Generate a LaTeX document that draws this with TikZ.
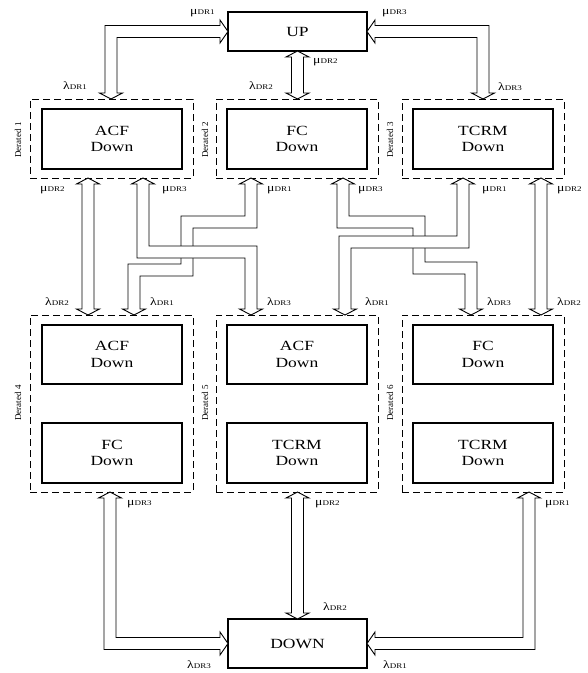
\documentclass[tikz,border=0pt]{standalone}
\usepackage{fontspec}
\setmainfont{Liberation Serif}[FakeStretch=1.25]
\newfontfamily\plainserif{Liberation Serif}

\tikzset{
  innerbox/.style={draw, line width=1.1pt, minimum width=140pt, minimum height=60pt,
    align=center, inner sep=0pt, font=\fontsize{14}{16.5}\selectfont},
  endbox/.style={draw, line width=1.1pt, minimum width=139pt, inner sep=0pt,
    font=\fontsize{14}{16.5}\selectfont},
  deratedbox/.style={draw, dash pattern=on 7pt off 4pt, line width=1pt, inner sep=0pt},
  dlabel/.style={rotate=90, inner sep=0pt, font=\plainserif\fontsize{9}{9}\selectfont},
  rlabel/.style={anchor=west, inner sep=0pt, font=\fontsize{11}{11}\selectfont},
  arrowbody/.style={draw=black, fill=white, line width=0.9pt, line join=miter}
}
% straight vertical hollow double arrow at x=#1 from y=#2 (top tip) to y=#3 (bottom tip)
\newcommand\varrow[3]{%
  \filldraw[arrowbody] (#1,#2) -- ({#1+11.5},{#2+6}) -- ({#1+6},{#2+6}) -- ({#1+6},{#3-6})
    -- ({#1+11.5},{#3-6}) -- (#1,#3) -- ({#1-11.5},{#3-6}) -- ({#1-6},{#3-6})
    -- ({#1-6},{#2+6}) -- ({#1-11.5},{#2+6}) -- cycle;}
\newcommand\lab[2]{#1{\fontsize{7.2}{8}\selectfont DR#2}}

\begin{document}
\begin{tikzpicture}[x=1pt, y=-1pt]
\useasboundingbox[fill=white] (0,0) rectangle (588,673);

% top and bottom boxes
\node[endbox, minimum height=39pt] (up) at (297.5,31.5) {UP};
\node[endbox, minimum height=49pt] (down) at (297.5,643.5) {DOWN};

% derated groups, row 1
\node[deratedbox, minimum width=163pt, minimum height=79pt] (d1) at (111.5,138.5) {};
\node[deratedbox, minimum width=162pt, minimum height=79pt] (d2) at (297,138.5) {};
\node[deratedbox, minimum width=162pt, minimum height=79pt] (d3) at (483,138.5) {};
\node[innerbox] (b1) at (112,139) {ACF\\Down};
\node[innerbox] (b2) at (297,139) {FC\\Down};
\node[innerbox] (b3) at (483,139) {TCRM\\Down};

% derated groups, row 2
\node[deratedbox, minimum width=163pt, minimum height=177pt] (d4) at (111.5,403.5) {};
\node[deratedbox, minimum width=162pt, minimum height=177pt] (d5) at (297,403.5) {};
\node[deratedbox, minimum width=162pt, minimum height=177pt] (d6) at (483,403.5) {};
\node[innerbox, minimum height=59pt] (b4a) at (112,354.5) {ACF\\Down};
\node[innerbox] (b4b) at (112,453) {FC\\Down};
\node[innerbox, minimum height=59pt] (b5a) at (297,354.5) {ACF\\Down};
\node[innerbox] (b5b) at (297,453) {TCRM\\Down};
\node[innerbox, minimum height=59pt] (b6a) at (483,354.5) {FC\\Down};
\node[innerbox] (b6b) at (483,453) {TCRM\\Down};

% derated labels
\node[dlabel] (l1) at (18,140) {Derated 1};
\node[dlabel] (l2) at (205,140) {Derated 2};
\node[dlabel] (l3) at (390,140) {Derated 3};
\node[dlabel] (l4) at (18,403) {Derated 4};
\node[dlabel] (l5) at (205,403) {Derated 5};
\node[dlabel] (l6) at (390,403) {Derated 6};

% ---- hollow double-headed connectors ----
% Derated 1 <-> UP
\filldraw[arrowbody] (111,99) -- (122.5,93) -- (117,93) -- (117,37.5) -- (220,37.5) -- (220,43)
  -- (228,31.5) -- (220,20) -- (220,25.5) -- (105,25.5) -- (105,93) -- (99.5,93) -- cycle;
% Derated 3 <-> UP
\filldraw[arrowbody] (483,99) -- (494.5,93) -- (489,93) -- (489,25.5) -- (375,25.5) -- (375,20)
  -- (367,31.5) -- (375,43) -- (375,37.5) -- (477,37.5) -- (477,93) -- (471.5,93) -- cycle;
% UP <-> Derated 2
\varrow{297.5}{51}{99}

% Derated 1 <-> Derated 4 and Derated 3 <-> Derated 6
\varrow{88}{178}{315}
\varrow{541}{178}{315}

% Derated 2 <-> Derated 4
\filldraw[arrowbody] (251,178) -- (262.5,184) -- (257,184) -- (257,228) -- (193,228) -- (193,276)
  -- (140,276) -- (140,309) -- (145.5,309) -- (134,315) -- (122.5,309) -- (128,309) -- (128,264)
  -- (181,264) -- (181,216) -- (245,216) -- (245,184) -- (239.5,184) -- cycle;
% Derated 1 <-> Derated 5
\filldraw[arrowbody] (143,178) -- (154.5,184) -- (149,184) -- (149,246) -- (257,246) -- (257,309)
  -- (262.5,309) -- (251,315) -- (239.5,309) -- (245,309) -- (245,258) -- (137,258) -- (137,184)
  -- (131.5,184) -- cycle;
% Derated 2 <-> Derated 6
\filldraw[arrowbody] (343,178) -- (354.5,184) -- (349,184) -- (349,216) -- (425,216) -- (425,262)
  -- (477,262) -- (477,309) -- (482.5,309) -- (471,315) -- (459.5,309) -- (465,309) -- (465,274)
  -- (413,274) -- (413,228) -- (337,228) -- (337,184) -- (331.5,184) -- cycle;
% Derated 3 <-> Derated 5
\filldraw[arrowbody] (463,178) -- (474.5,184) -- (469,184) -- (469,248) -- (351,248) -- (351,309)
  -- (356.5,309) -- (345,315) -- (333.5,309) -- (339,309) -- (339,236) -- (457,236) -- (457,184)
  -- (451.5,184) -- cycle;

% Derated 4 <-> DOWN
\filldraw[arrowbody] (110,492) -- (121.5,498) -- (116,498) -- (116,637.5) -- (220,637.5) -- (220,632)
  -- (228,643.5) -- (220,655) -- (220,649.5) -- (104,649.5) -- (104,498) -- (98.5,498) -- cycle;
% Derated 6 <-> DOWN
\filldraw[arrowbody] (529,492) -- (540.5,498) -- (535,498) -- (535,649.5) -- (375,649.5) -- (375,655)
  -- (367,643.5) -- (375,632) -- (375,637.5) -- (523,637.5) -- (523,498) -- (517.5,498) -- cycle;
% Derated 5 <-> DOWN
\varrow{297.5}{492}{619}

% rate labels
\node[rlabel] (m1) at (190,13) {\lab{μ}{1}};
\node[rlabel] (m2) at (382,13) {\lab{μ}{3}};
\node[rlabel] (m3) at (63,86) {\lab{λ}{1}};
\node[rlabel] (m4) at (249,86) {\lab{λ}{2}};
\node[rlabel] (m5) at (313,62) {\lab{μ}{2}};
\node[rlabel] (m6) at (498,87) {\lab{λ}{3}};

\node[rlabel] (n1) at (40,190) {\lab{μ}{2}};
\node[rlabel] (n2) at (162,190) {\lab{μ}{3}};
\node[rlabel] (n3) at (267,190) {\lab{μ}{1}};
\node[rlabel] (n4) at (358,190) {\lab{μ}{3}};
\node[rlabel] (n5) at (482,190) {\lab{μ}{1}};
\node[rlabel] (n6) at (557,190) {\lab{μ}{2}};

\node[rlabel] (o1) at (45,302) {\lab{λ}{2}};
\node[rlabel] (o2) at (150,302) {\lab{λ}{1}};
\node[rlabel] (o3) at (267,302) {\lab{λ}{3}};
\node[rlabel] (o4) at (365,302) {\lab{λ}{1}};
\node[rlabel] (o5) at (487,302) {\lab{λ}{3}};
\node[rlabel] (o6) at (557,302) {\lab{λ}{2}};

\node[rlabel] (p1) at (127,504) {\lab{μ}{3}};
\node[rlabel] (p2) at (315,504) {\lab{μ}{2}};
\node[rlabel] (p3) at (545,504) {\lab{μ}{1}};
\node[rlabel] (p4) at (323,607) {\lab{λ}{2}};
\node[rlabel] (p5) at (187,665) {\lab{λ}{3}};
\node[rlabel] (p6) at (383,665) {\lab{λ}{1}};
\end{tikzpicture}
\end{document}
